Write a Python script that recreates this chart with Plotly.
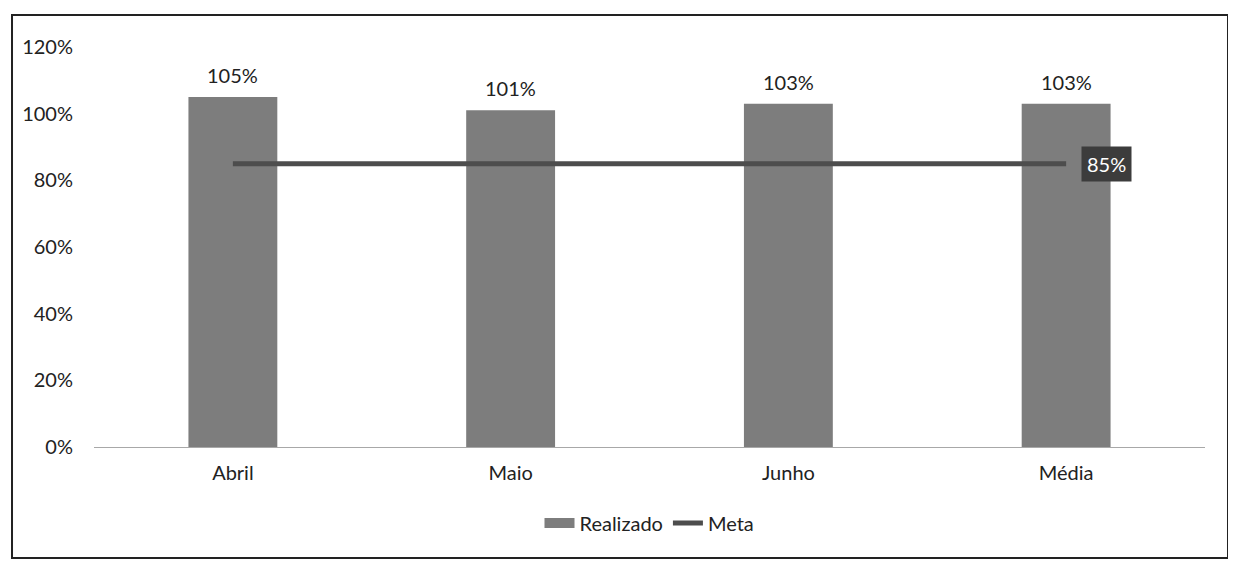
import plotly.graph_objects as go

meses = ["Abril", "Maio", "Junho", "Média"]
realizado = [1.05, 1.01, 1.03, 1.03]
meta = [0.85, 0.85, 0.85, 0.85]
y_ticks = [0, 0.2, 0.4, 0.6, 0.8, 1.0, 1.2]

FONT = "Lato, Carlito, Calibri, sans-serif"
BAR_COLOR = "#7d7d7d"

fig = go.Figure()
# Realizado bars (legend entry drawn by a dummy trace below, wider swatch)
fig.add_trace(go.Bar(
    x=meses,
    y=realizado,
    name="Realizado",
    marker=dict(color=BAR_COLOR, line=dict(width=0)),
    showlegend=False,
    legendgroup="realizado",
))
fig.add_trace(go.Scatter(
    x=[None], y=[None],
    mode="lines",
    name="Realizado",
    line=dict(color=BAR_COLOR, width=14),
    legendgroup="realizado",
))
# Meta line
fig.add_trace(go.Scatter(
    x=meses,
    y=meta,
    mode="lines",
    name="Meta",
    line=dict(color="#4d4d4d", width=5),
))

# value labels above bars
for m, v in zip(meses, realizado):
    fig.add_annotation(
        x=m, y=v, text=f"{v:.0%}",
        showarrow=False, yanchor="bottom", yshift=8,
        font=dict(size=20, color="#222222", family=FONT),
    )

# label on last Meta point
fig.add_annotation(
    x=meses[-1], y=meta[-1],
    text=f"{meta[-1]:.0%}",
    showarrow=False,
    xanchor="left",
    xshift=15,
    bgcolor="#3c3c3c",
    font=dict(size=20, color="white", family=FONT),
    borderpad=5,
)

# outer frame
fig.add_shape(
    type="rect", xref="paper", yref="paper",
    x0=-0.0738, x1=1.0207, y0=-0.2775, y1=1.08,
    line=dict(color="#222222", width=2),
)

fig.update_layout(
    width=1228,
    height=554,
    template="plotly_white",
    plot_bgcolor="white",
    paper_bgcolor="white",
    font=dict(family=FONT, size=20, color="#222222"),
    margin=dict(l=86, r=31, t=39, b=115),
    bargap=0.68,
    showlegend=True,
    legend=dict(
        orientation="h",
        x=0.5, xanchor="center",
        y=-0.19, yanchor="middle",
        font=dict(size=20),
        traceorder="normal",
    ),
    xaxis=dict(
        showgrid=False,
        showline=True,
        linecolor="#a8a8a8",
        linewidth=1,
        ticks="",
        ticklabelstandoff=8,
    ),
    yaxis=dict(
        range=[0, 1.2],
        tickvals=y_ticks,
        tickformat=".0%",
        showgrid=False,
        zeroline=False,
        showline=False,
        ticklabelstandoff=20,
    ),
)

fig.write_html("out.html")
